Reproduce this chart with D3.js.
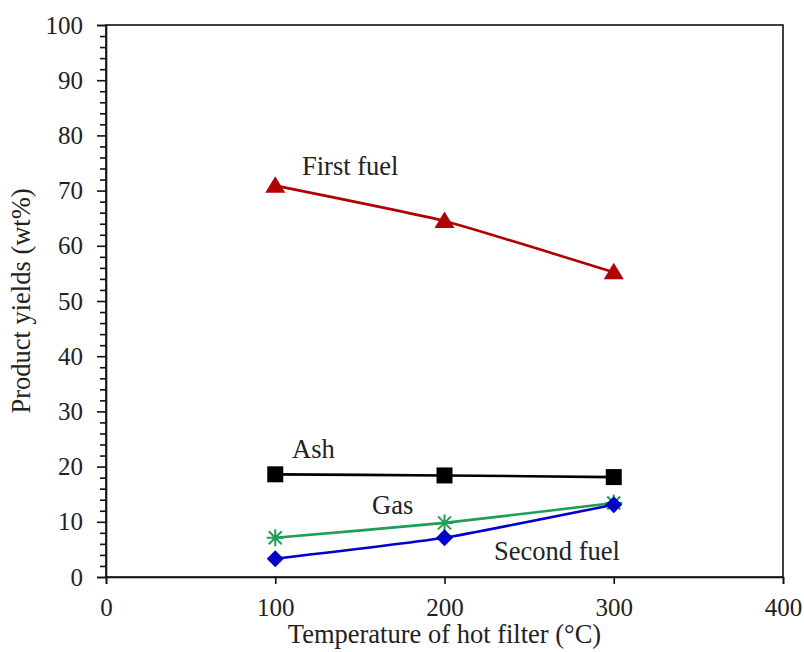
<!DOCTYPE html>
<html>
<head>
<meta charset="utf-8">
<script src="https://cdn.jsdelivr.net/npm/d3@7"></script>
<style>
  body { margin: 0; background: #fff; }
  svg text { font-family: "Liberation Serif", "Times New Roman", serif; fill: #222; }
</style>
</head>
<body>
<div id="chart"></div>
<script>
// temperatures of hot filter (°C)
const temps = [100, 200, 300];
const firstFuel = [70.9, 64.5, 55.2];
const ash = [18.6, 18.4, 18.1];
const gas = [7.1, 9.8, 13.4];
const secondFuel = [3.3, 7.1, 13.1];
const xTicks = [0, 100, 200, 300, 400];
const yTicks = [0, 10, 20, 30, 40, 50, 60, 70, 80, 90, 100];

const width = 804, height = 652;
const margin = {top: 25, right: 21, bottom: 75, left: 106};
const serif = "'Liberation Serif', 'Times New Roman', serif";

let svg = d3.select("#chart").append("svg")
	.attr("width", width)
	.attr("height", height);

let x = d3.scaleLinear().domain([0, 400]).range([margin.left, width - margin.right]);
let y = d3.scaleLinear().domain([0, 100]).range([height - margin.bottom, margin.top]);

// frame
svg.append("rect")
	.attr("x", x(0)).attr("y", y(100))
	.attr("width", x(400) - x(0)).attr("height", y(0) - y(100))
	.attr("fill", "none").attr("stroke", "#111").attr("stroke-width", 1.6);

// y axis: major + minor ticks
svg.append("g").attr("transform", "translate(" + x(0) + ",0)")
	.call(d3.axisLeft(y).tickValues(yTicks).tickSize(9).tickPadding(14));
svg.append("g").attr("transform", "translate(" + x(0) + ",0)")
	.call(d3.axisLeft(y).tickValues(d3.range(0, 101, 2).filter(d => d % 10 != 0)).tickSize(6).tickFormat(""))
	.select(".domain").remove();

svg.append("g").attr("transform", "translate(0," + y(0) + ")")
	.call(d3.axisBottom(x).tickValues(xTicks).tickSize(7).tickPadding(14));

svg.selectAll(".tick line").attr("stroke", "#111").attr("stroke-width", 1.6);
svg.selectAll(".domain").attr("stroke", "#111").attr("stroke-width", 1.6);
svg.selectAll(".tick text")
	.attr("font-family", serif)
	.style("font-size", "25px").attr("fill", "#222");

// axis titles
svg.append("text")
	.attr("x", (x(0) + x(400)) / 2).attr("y", 643)
	.attr("text-anchor", "middle").style("font-size", "26.5px")
	.attr("font-family", serif)
	.text("Temperature of hot filter (°C)");
svg.append("text")
	.attr("transform", "translate(30," + (y(50)) + ") rotate(-90)")
	.attr("text-anchor", "middle").style("font-size", "26.5px")
	.attr("font-family", serif)
	.text("Product yields (wt%)");

const diamond = "M0,-8.5L8.5,0L0,8.5L-8.5,0Z";
const square = "M-8,-8H8V8H-8Z";
const triangle = "M0,-9.5L10,7L-10,7Z";
const asterisk = "M-8.5,0H8.5M0,-8.5V8.5M-6.5,-6.5L6.5,6.5M-6.5,6.5L6.5,-6.5";

let series = [
	{name: "First fuel", values: firstFuel, color: "#b00000", marker: triangle, lx: 302, ly: 175},
	{name: "Ash", values: ash, color: "#000000", marker: square, lx: 292, ly: 458},
	{name: "Gas", values: gas, color: "#1f9e55", marker: asterisk, lx: 372, ly: 514},
	{name: "Second fuel", values: secondFuel, color: "#0000c8", marker: diamond, lx: 494, ly: 560}
];

let line = d3.line()
	.x(function(d, i) { return x(temps[i]); })
	.y(function(d) { return y(d); })
	.curve(d3.curveCardinal.tension(0.6));

series.forEach(function(s) {
	svg.append("path")
		.attr("d", line(s.values))
		.attr("fill", "none")
		.attr("stroke", s.color)
		.attr("stroke-width", 2.6);

	let pts = svg.selectAll(null).data(s.values).enter().append("path")
		.attr("transform", function(d, i) { return "translate(" + x(temps[i]) + "," + y(d) + ")"; })
		.attr("d", s.marker);
	if (s.marker === asterisk) {
		pts.attr("fill", "none").attr("stroke", s.color).attr("stroke-width", 2);
	} else {
		pts.attr("fill", s.color);
	}

	svg.append("text")
		.attr("x", s.lx).attr("y", s.ly)
		.style("font-size", "26.5px")
		.attr("font-family", serif)
		.text(s.name);
});
</script>
</body>
</html>
